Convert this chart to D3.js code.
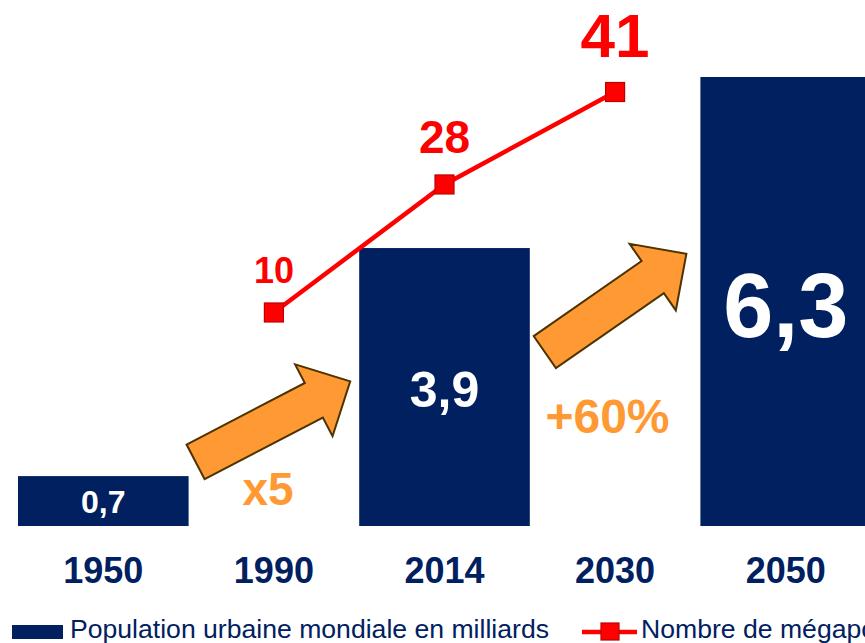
<!DOCTYPE html>
<html>
<head>
<meta charset="utf-8">
<script src="https://cdn.jsdelivr.net/npm/d3@7"></script>
<style>
  html, body { margin: 0; padding: 0; background: #ffffff; overflow: hidden; }
  svg { display: block; font-family: "Liberation Sans", Arial, sans-serif; }
</style>
</head>
<body>
<svg id="chart" width="865" height="643"></svg>
<script>
// ---- data ----
const years = ["1950", "1990", "2014", "2030", "2050"];
const popYears = ["1950", "2014", "2050"];
const popValues = [0.7, 3.9, 6.3];
const popLabels = ["0,7", "3,9", "6,3"];
const megaYears = ["1990", "2014", "2030"];
const megaValues = [10, 28, 41];
const growthLabels = ["x5", "+60%"];
const legendLabels = ["Population urbaine mondiale en milliards", "Nombre de mégapoles"];

const NAVY = "#002060", RED = "#ff0000", ORANGE = "#ff9933";

const svg = d3.select("#chart");

const x = d3.scaleBand().domain(years).range([18, 871]).padding(0);
const yBar = d3.scaleLinear().domain([0, 6.3]).range([526, 77]);
const yLine = d3.scaleLinear().domain([0, 41]).range([383.6, 92]);
const bw = x.bandwidth();

const pop = popYears.map((yr, i) => ({ yr, v: popValues[i], label: popLabels[i] }));
const mega = megaYears.map((yr, i) => ({ yr, v: megaValues[i] }));

// bars
svg.append("g").selectAll("rect").data(pop).join("rect")
  .attr("x", d => x(d.yr))
  .attr("y", d => yBar(d.v))
  .attr("width", bw)
  .attr("height", d => yBar(0) - yBar(d.v))
  .attr("fill", NAVY);

// bar labels
const barFont = [32, 50, 90];
const barBase = [513, 407, 337];
svg.append("g").selectAll("text").data(pop).join("text")
  .attr("x", d => x(d.yr) + bw / 2)
  .attr("y", (d, i) => barBase[i])
  .attr("text-anchor", "middle")
  .attr("font-weight", "bold")
  .attr("font-size", (d, i) => barFont[i])
  .attr("fill", "#ffffff")
  .text(d => d.label);

// arrows (annotations)
function arrowPath(L) {
  const sw = 19.5, hw = 40.5, hl = 41;
  return `M0,${-sw} L${L - hl},${-sw} L${L - hl},${-hw} L${L},0 L${L - hl},${hw} L${L - hl},${sw} L0,${sw} Z`;
}
const arrows = [
  { x0: x("1950") + bw + 7, y0: yBar(0.9), x1: x("2014") - 9, y1: yBar(2.03) },
  { x0: x("2014") + bw + 15, y0: yBar(2.44), x1: x("2050") - 14, y1: yBar(3.82) }
];
arrows.forEach(a => {
  const L = Math.hypot(a.x1 - a.x0, a.y1 - a.y0);
  const ang = Math.atan2(a.y1 - a.y0, a.x1 - a.x0) * 180 / Math.PI;
  svg.append("path")
    .attr("d", arrowPath(L))
    .attr("transform", `translate(${a.x0},${a.y0}) rotate(${ang})`)
    .attr("fill", ORANGE)
    .attr("stroke", "#4d3300")
    .attr("stroke-width", 2)
    .attr("stroke-linejoin", "miter");
});

// growth labels
svg.append("text").attr("x", 268).attr("y", 505).attr("text-anchor", "middle")
  .attr("font-weight", "bold").attr("font-size", 46).attr("fill", ORANGE).text(growthLabels[0]);
svg.append("text").attr("x", 607.5).attr("y", 433).attr("text-anchor", "middle")
  .attr("font-weight", "bold").attr("font-size", 48).attr("fill", ORANGE).text(growthLabels[1]);

// line
const line = d3.line().x(d => x(d.yr) + bw / 2).y(d => yLine(d.v));
svg.append("path").datum(mega)
  .attr("d", line)
  .attr("fill", "none")
  .attr("stroke", RED)
  .attr("stroke-width", 4.5);

svg.append("g").selectAll("rect").data(mega).join("rect")
  .attr("x", d => x(d.yr) + bw / 2 - 9.5)
  .attr("y", d => yLine(d.v) - 9.5)
  .attr("width", 19).attr("height", 19)
  .attr("fill", RED)
  .attr("stroke", "#c00000")
  .attr("stroke-width", 1.2);

const megaFont = [36, 46, 62];
const megaOff = [29.5, 31, 35];
svg.append("g").selectAll("text").data(mega).join("text")
  .attr("x", d => x(d.yr) + bw / 2)
  .attr("y", (d, i) => yLine(d.v) - megaOff[i])
  .attr("text-anchor", "middle")
  .attr("font-weight", "bold")
  .attr("font-size", (d, i) => megaFont[i])
  .attr("fill", RED)
  .text(d => d.v);

// x axis labels
const xAxis = d3.axisBottom(x).tickSize(0).tickPadding(0);
const gx = svg.append("g").attr("transform", "translate(0,526)").call(xAxis);
gx.select(".domain").remove();
gx.selectAll("text")
  .attr("y", 57)
  .attr("dy", 0)
  .attr("font-family", "Liberation Sans, Arial, sans-serif")
  .attr("font-weight", "bold")
  .attr("font-size", 36)
  .attr("fill", NAVY);

// legend
const lg = svg.append("g");
lg.append("rect").attr("x", 12).attr("y", 625).attr("width", 51).attr("height", 14).attr("fill", NAVY);
lg.append("text").attr("x", 70).attr("y", 638).attr("font-size", 26.6).attr("fill", NAVY).text(legendLabels[0]);
lg.append("line").attr("x1", 582).attr("x2", 637).attr("y1", 632).attr("y2", 632)
  .attr("stroke", RED).attr("stroke-width", 4.5);
lg.append("rect").attr("x", 601).attr("y", 623).attr("width", 18).attr("height", 17)
  .attr("fill", RED).attr("stroke", "#c00000").attr("stroke-width", 1.2);
lg.append("text").attr("x", 641).attr("y", 638).attr("font-size", 26.6).attr("fill", NAVY).text(legendLabels[1]);
</script>
</body>
</html>
